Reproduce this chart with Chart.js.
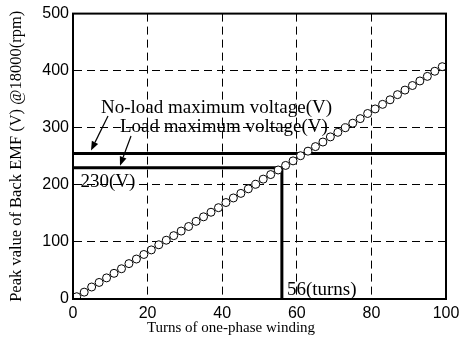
<!DOCTYPE html>
<html>
<head>
<meta charset="utf-8">
<script src="https://cdn.jsdelivr.net/npm/chart.js@4/dist/chart.umd.min.js"></script>
<style>
  html, body { margin: 0; padding: 0; background: #fff; }
  #wrap { width: 466px; height: 340px; }
</style>
</head>
<body>
<div id="wrap"><canvas id="emfChart"></canvas></div>
<script>
// turns of one-phase winding and the peak back EMF at 18000 rpm
const turns = [1, 3, 5, 7, 9, 11, 13, 15, 17, 19, 21, 23, 25, 27, 29, 31, 33, 35, 37, 39,
  41, 43, 45, 47, 49, 51, 53, 55, 57, 59, 61, 63, 65, 67, 69, 71, 73, 75, 77, 79,
  81, 83, 85, 87, 89, 91, 93, 95, 97, 99];
const peakEmf = [4, 12, 21, 29, 37, 45, 53, 62, 70, 78, 86, 95, 103, 111, 119, 127, 136, 144, 152, 160,
  169, 177, 185, 193, 201, 210, 218, 226, 234, 242, 251, 259, 267, 275, 284, 292, 300, 308, 316, 325,
  333, 341, 349, 358, 366, 374, 382, 390, 399, 407];

const noLoadMaxVoltage = 255;
const loadMaxVoltage = 230;
const designTurns = 56;

const xTicks = [0, 20, 40, 60, 80, 100];
const yTicks = [0, 100, 200, 300, 400, 500];

const serif = "'Liberation Serif', 'Times New Roman', serif";
const sans = "'Liberation Sans', Arial, sans-serif";

function arrow(ctx, x1, y1, x2, y2) {
  const ang = Math.atan2(y2 - y1, x2 - x1);
  const len = 9, wid = 3.5;
  ctx.beginPath();
  ctx.moveTo(x1, y1);
  ctx.lineTo(x2 - Math.cos(ang) * len, y2 - Math.sin(ang) * len);
  ctx.stroke();
  ctx.beginPath();
  ctx.moveTo(x2, y2);
  ctx.lineTo(x2 - Math.cos(ang) * len + Math.sin(ang) * wid, y2 - Math.sin(ang) * len - Math.cos(ang) * wid);
  ctx.lineTo(x2 - Math.cos(ang) * len - Math.sin(ang) * wid, y2 - Math.sin(ang) * len + Math.cos(ang) * wid);
  ctx.closePath();
  ctx.fill();
}

// labels and arrows go under the grid, the frame goes on top
const notes = {
  id: "notes",
  beforeDraw(chart) {
    const ctx = chart.ctx;
    const xs = chart.scales.x, ys = chart.scales.y;
    ctx.save();
    ctx.fillStyle = "#000";
    ctx.strokeStyle = "#000";
    ctx.lineWidth = 1.2;
    ctx.font = "19px " + serif;
    ctx.textBaseline = "alphabetic";
    ctx.textAlign = "left";
    ctx.fillText("No-load maximum voltage(V)", 101, 113);
    ctx.fillText("Load maximum voltage(V)", 120, 132);

    const yNo = ys.getPixelForValue(noLoadMaxVoltage);
    const yLoad = ys.getPixelForValue(loadMaxVoltage);
    arrow(ctx, 108, 116, 91, yNo - 3);
    arrow(ctx, 131, 136, 120, yLoad - 2);

    ctx.fillText(loadMaxVoltage + "(V)", xs.getPixelForValue(2), yLoad + 19);
    ctx.fillText(designTurns + "(turns)", xs.getPixelForValue(designTurns) + 5, ys.getPixelForValue(0) - 4);

    // x axis title sits a little left of the plot centre
    ctx.font = "15px " + serif;
    ctx.textAlign = "center";
    ctx.fillText("Turns of one-phase winding", 231, 332);
    ctx.restore();
  },
  afterDraw(chart) {
    const a = chart.chartArea;
    const ctx = chart.ctx;
    ctx.save();
    ctx.strokeStyle = "#000";
    ctx.lineWidth = 2;
    ctx.strokeRect(a.left, a.top, a.right - a.left, a.bottom - a.top);
    ctx.restore();
  }
};

const ctx = document.getElementById("emfChart").getContext("2d");
const emfChart = new Chart(ctx, {
  type: "scatter",
  data: {
    datasets: [
      {
        label: "Back EMF",
        data: turns.map((t, i) => ({ x: t, y: peakEmf[i] })),
        showLine: false,
        pointRadius: 4,
        pointBorderWidth: 1,
        pointBorderColor: "#000",
        pointBackgroundColor: "#fff",
      },
      {
        label: "No-load maximum voltage(V)",
        data: [{ x: 0, y: noLoadMaxVoltage }, { x: 100, y: noLoadMaxVoltage }],
        showLine: true,
        borderColor: "#000",
        borderWidth: 3,
        pointRadius: 0,
      },
      {
        label: "Load maximum voltage(V)",
        data: [{ x: 0, y: loadMaxVoltage }, { x: designTurns, y: loadMaxVoltage }, { x: designTurns, y: 0 }],
        showLine: true,
        borderColor: "#000",
        borderWidth: 3,
        pointRadius: 0,
      },
    ],
  },
  options: {
    responsive: true,
    maintainAspectRatio: false,
    animation: false,
    layout: { padding: { top: 13, right: 20, left: 0, bottom: 0 } },
    plugins: {
      legend: { display: false },
      tooltip: { enabled: false },
    },
    scales: {
      x: {
        type: "linear",
        min: 0,
        max: 100,
        afterBuildTicks: (s) => { s.ticks = xTicks.map((v) => ({ value: v })); },
        afterFit: (s) => { s.height = 41; },
        grid: {
          color: "#000",
          lineWidth: 1,
          drawTicks: false,
        },
        border: { display: true, color: "#000", width: 2, dash: [8, 5] },
        ticks: {
          color: "#000",
          padding: 5,
          font: { family: sans, size: 16 },
          maxRotation: 0,
        },
      },
      y: {
        min: 0,
        max: 500,
        afterBuildTicks: (s) => { s.ticks = yTicks.map((v) => ({ value: v })); },
        afterFit: (s) => { s.width = 73; },
        grid: {
          color: "#000",
          lineWidth: 1,
          drawTicks: false,
        },
        border: { display: true, color: "#000", width: 2, dash: [8, 5] },
        ticks: {
          color: "#000",
          padding: 4,
          font: { family: sans, size: 16 },
        },
        title: {
          display: true,
          text: "Peak value of Back EMF (V) @18000(rpm)",
          color: "#000",
          font: { family: serif, size: 16.5 },
          padding: { top: 7, bottom: 0 },
        },
      },
    },
  },
  plugins: [notes],
});
</script>
</body>
</html>
